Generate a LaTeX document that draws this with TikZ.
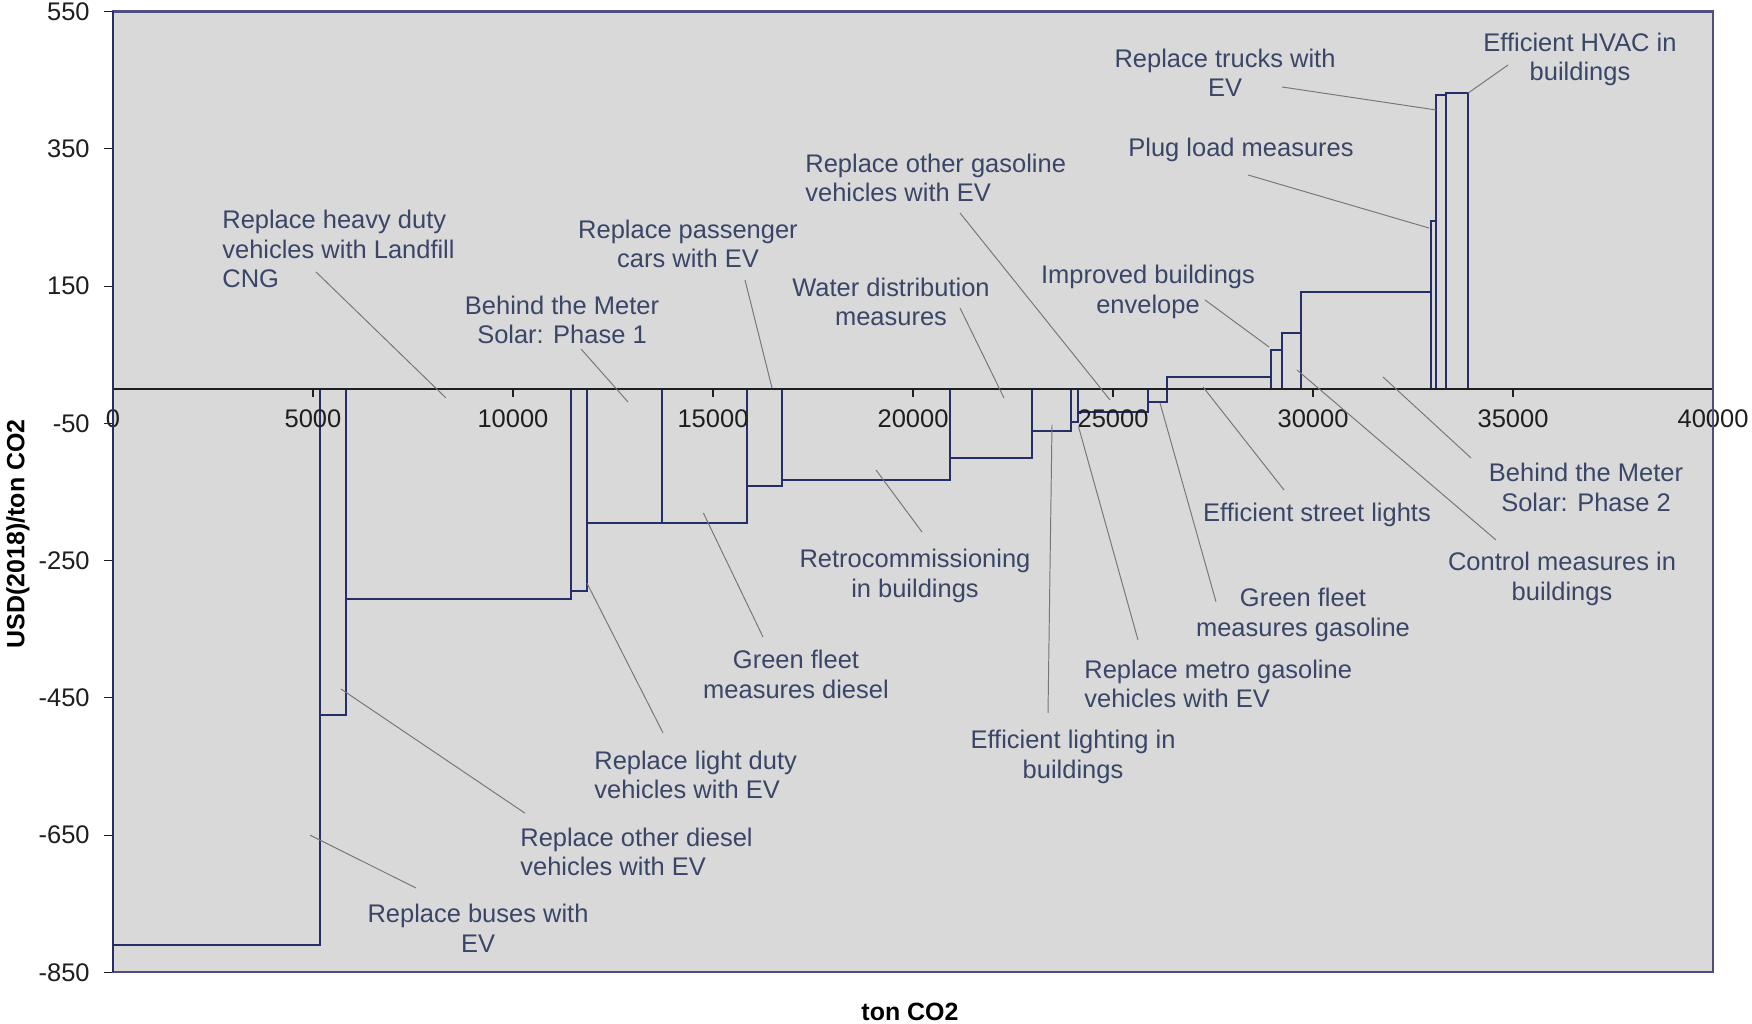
\documentclass[tikz,border=0pt]{standalone}
\usepackage{fontspec}
\setmainfont{Liberation Sans}
\definecolor{plotbg}{RGB}{217,217,217}
\definecolor{barcol}{RGB}{36,46,104}
\definecolor{framecol}{RGB}{78,78,128}
\definecolor{lblcol}{RGB}{58,70,104}
\definecolor{ptrcol}{RGB}{118,118,118}
\definecolor{tickcol}{RGB}{30,30,30}
\begin{document}
\begin{tikzpicture}[x=0.8cm,y=1.3728cm,
        lblsty/.style={text=lblcol,align=center,inner sep=0pt,
            font=\fontsize{14.5}{16.8}\selectfont},
        llsty/.style={lblsty,align=left,anchor=west},
        ptrsty/.style={draw=ptrcol,line width=0.55pt},
        barsty/.style={draw=barcol,line width=1.2pt},
        ticksty/.style={text=tickcol,inner sep=0pt,
            font=\fontsize{14.5}{16.8}\selectfont},
        ttlsty/.style={text=black,inner sep=0pt,
            font=\fontsize{14.2}{16.8}\selectfont\bfseries},
    ]
    \useasboundingbox (-2.825,-9.237) rectangle (40.975,5.667);
    \fill[plotbg] (0,-8.5) rectangle (40,5.5);
    % bars: start/end (1000 t) and cost (100 USD)
    \foreach \a/\b/\v in {0/5.175/-8.10, 5.175/5.83/-4.75, 5.83/11.45/-3.06,
        11.45/11.84/-2.94, 11.84/13.72/-1.95, 13.72/15.85/-1.95,
        15.85/16.72/-1.41, 16.72/20.93/-1.33, 20.93/22.98/-1.005,
        22.98/23.95/-0.61, 23.95/24.13/-0.48, 24.13/25.875/-0.33,
        25.875/26.35/-0.19, 26.35/28.94/0.175, 28.94/29.225/0.568,
        29.225/29.7/0.82, 29.7/32.94/1.413, 32.94/33.075/2.448,
        33.075/33.325/4.283, 33.325/33.875/4.308}{
        \draw[barsty] (\a,0) rectangle (\b,\v);
    }
    % axes
    \draw[tickcol,line width=0.6pt] (0,0) -- (40,0);
    \foreach \t/\l in {0/0,5/5000,10/10000,15/15000,20/20000,
        25/25000,30/30000,35/35000,40/40000}{
        \draw[tickcol,line width=0.6pt] (\t,0) -- (\t,-0.12);
        \node (x\t) at (\t,-0.437) [ticksty] {\l};
    }
    \foreach \v in {550,350,150,-50,-250,-450,-650,-850}{
        \draw[tickcol,line width=0.6pt] (-0.225,\v/100) -- (0,\v/100);
        \node (y\v) at (-0.575,\v/100) [ticksty,anchor=east] {\v};
    }
    \draw[framecol,line width=1.2pt] (0,-8.5) rectangle (40,5.5);
    \draw[barcol,line width=1pt] (0,-8.5) -- (0,5.5);
    \node (ytl) at (-2.375,-2.11) [ttlsty,rotate=90] {USD(2018)/ton CO2};
    \node (xtl) at (19.925,-9.076) [ttlsty] {ton CO2};
    % labels
    \node (lhdv) at (2.725,2.04) [llsty] {Replace heavy duty\\vehicles with Landfill\\CNG};
    \node (lbtm1) at (11.225,1.005) [lblsty] {Behind the Meter\\Solar: Phase 1};
    \node (lcar) at (14.375,2.112) [lblsty] {Replace passenger\\cars with EV};
    \node (logas) at (17.3,3.074) [llsty] {Replace other gasoline\\vehicles with EV};
    \node (lwat) at (19.45,1.267) [lblsty] {Water distribution\\measures};
    \node (lenv) at (25.875,1.413) [lblsty] {Improved buildings\\envelope};
    \node (ltrk) at (27.8,4.604) [lblsty] {Replace trucks with\\EV};
    \node (lplug) at (28.2,3.482) [lblsty] {Plug load measures};
    \node (lhvac) at (36.675,4.80) [lblsty] {Efficient HVAC in\\buildings};
    \node (lbus) at (9.125,-7.853) [lblsty] {Replace buses with\\EV};
    \node (lodsl) at (10.175,-6.745) [llsty] {Replace other diesel\\vehicles with EV};
    \node (lldv) at (12.025,-5.624) [llsty] {Replace light duty\\vehicles with EV};
    \node (lgfd) at (17.075,-4.159) [lblsty] {Green fleet\\measures diesel};
    \node (lrcx) at (20.05,-2.724) [lblsty] {Retrocommissioning\\in buildings};
    \node (llgt) at (24.0,-5.36) [lblsty] {Efficient lighting in\\buildings};
    \node (lmgas) at (24.275,-4.298) [llsty] {Replace metro gasoline\\vehicles with EV};
    \node (lgfg) at (29.75,-3.293) [lblsty] {Green fleet\\measures gasoline};
    \node (lstr) at (30.1,-1.836) [lblsty] {Efficient street lights};
    \node (lctl) at (36.225,-2.768) [lblsty] {Control measures in\\buildings};
    \node (lbtm2) at (36.825,-1.435) [lblsty] {Behind the Meter\\Solar: Phase 2};
    % leader lines
    \foreach \n/\a/\b/\c/\d in {hdv/5.075/1.705/8.325/-0.131,
        btm1/11.7/0.583/12.875/-0.189, car/15.8/1.588/16.475/0.015,
        ogas/21.175/2.564/24.925/-0.16, wat/21.175/1.18/22.275/-0.131,
        env/27.3/1.297/28.9/0.612, trk/29.225/4.4/33.075/4.065,
        plug/28.375/3.118/32.9/2.345, hvac/34.875/4.72/33.875/4.31,
        bus/7.575/-7.27/4.925/-6.5, odsl/10.3/-6.18/5.7/-4.371,
        ldv/13.75/-5.01/11.85/-2.83, gfd/16.25/-3.613/14.76/-1.807,
        rcx/20.225/-2.083/19.075/-1.18, lgt/23.375/-4.72/23.475/-0.52,
        mgas/25.625/-3.657/24.14/-0.554, gfg/27.575/-3.10/26.175/-0.204,
        str/29.275/-1.471/27.25/0.03, ctl/34.575/-2.2/29.6/0.277,
        btm2/33.95/-1.005/31.75/0.175}{
        \coordinate (\n0) at (\a,\b);
        \coordinate (\n1) at (\c,\d);
        \draw[ptrsty] (\n0) -- (\n1);
    }
\end{tikzpicture}
\end{document}
